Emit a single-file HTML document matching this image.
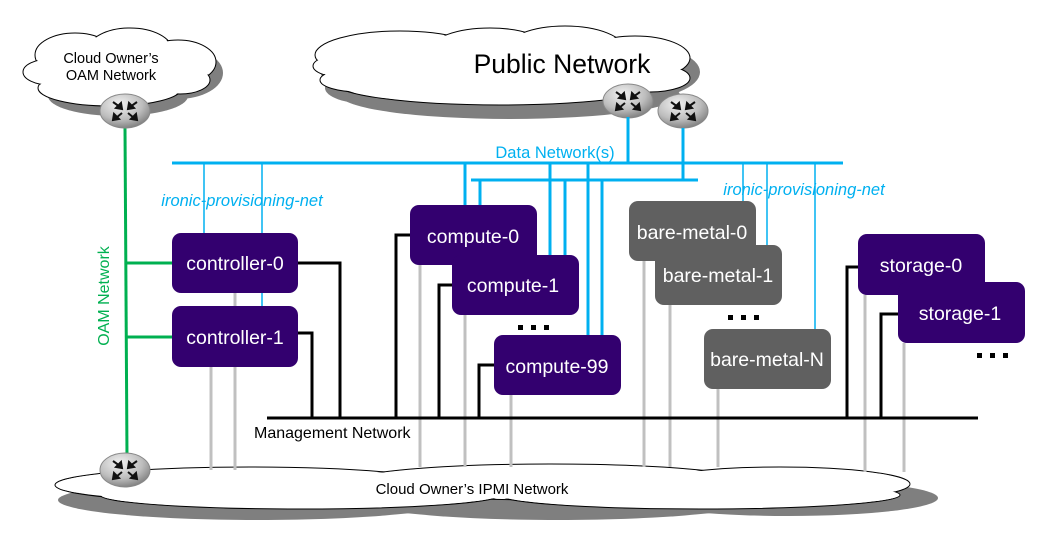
<!DOCTYPE html>
<html><head><meta charset="utf-8"><style>
html,body{margin:0;padding:0;background:#fff}
svg{display:block}
text{font-family:"Liberation Sans",Arial,sans-serif}
</style></head><body>
<svg width="1051" height="537" viewBox="0 0 1051 537" xmlns="http://www.w3.org/2000/svg">
<defs>
<radialGradient id="rg" cx="40%" cy="30%" r="75%">
<stop offset="0" stop-color="#f2f2f2"/><stop offset="0.6" stop-color="#bdbdbd"/><stop offset="1" stop-color="#7a7a7a"/>
</radialGradient>
<g id="router">
<ellipse cx="0" cy="0" rx="25" ry="17" fill="url(#rg)" stroke="#888" stroke-width="1"/>
<g stroke="#111" stroke-width="2" fill="#111">
<line x1="-12" y1="-9" x2="-5" y2="-4"/><polygon points="-3,-2 -9,-3 -4,-8"/>
<line x1="12" y1="-9" x2="5" y2="-4"/><polygon points="3,-2 9,-3 4,-8"/>
<line x1="-3" y1="2" x2="-9" y2="7"/><polygon points="-12,9 -6,8 -11,3"/>
<line x1="3" y1="2" x2="9" y2="7"/><polygon points="12,9 6,8 11,3"/>
</g>
</g>
</defs>

<!-- OAM cloud -->
<g transform="translate(8,8)" fill="#7f7f7f">
<ellipse cx="70" cy="62" rx="45" ry="24"/><ellipse cx="120" cy="52" rx="45" ry="26"/><ellipse cx="170" cy="65" rx="45" ry="26"/><ellipse cx="110" cy="88" rx="70" ry="20"/>
</g>
<g fill="#fff" stroke="#000" stroke-width="1">
<ellipse cx="75" cy="55" rx="40" ry="22"/><ellipse cx="130" cy="50" rx="42" ry="22"/><ellipse cx="178" cy="62" rx="38" ry="22"/><ellipse cx="110" cy="88" rx="72" ry="18"/><ellipse cx="50" cy="72" rx="27" ry="13"/><ellipse cx="180" cy="80" rx="30" ry="14"/>
</g>
<g fill="#fff">
<ellipse cx="75" cy="55" rx="39" ry="21"/><ellipse cx="130" cy="50" rx="41" ry="21"/><ellipse cx="178" cy="62" rx="37" ry="21"/><ellipse cx="110" cy="88" rx="71" ry="17"/><ellipse cx="50" cy="72" rx="26" ry="12"/><ellipse cx="180" cy="80" rx="29" ry="13"/>
<ellipse cx="115" cy="68" rx="75" ry="20"/>
</g>
<text x="111" y="63" font-size="14.5" text-anchor="middle">Cloud Owner’s</text>
<text x="111" y="80" font-size="14.5" text-anchor="middle">OAM Network</text>

<!-- Public cloud -->
<g transform="translate(10,10)" fill="#7f7f7f">
<ellipse cx="400" cy="60" rx="90" ry="30"/><ellipse cx="520" cy="55" rx="90" ry="30"/><ellipse cx="620" cy="62" rx="70" ry="28"/><ellipse cx="500" cy="85" rx="170" ry="24"/><ellipse cx="360" cy="78" rx="45" ry="16"/>
</g>
<g fill="#fff" stroke="#000" stroke-width="1">
<ellipse cx="400" cy="55" rx="85" ry="24"/><ellipse cx="490" cy="50" rx="60" ry="22"/><ellipse cx="565" cy="50" rx="60" ry="24"/><ellipse cx="635" cy="58" rx="55" ry="22"/><ellipse cx="500" cy="83" rx="165" ry="22"/><ellipse cx="355" cy="66" rx="42" ry="13"/><ellipse cx="360" cy="80" rx="40" ry="12"/><ellipse cx="650" cy="78" rx="40" ry="14"/>
</g>
<g fill="#fff">
<ellipse cx="400" cy="55" rx="84" ry="23"/><ellipse cx="490" cy="50" rx="59" ry="21"/><ellipse cx="565" cy="50" rx="59" ry="23"/><ellipse cx="635" cy="58" rx="54" ry="21"/><ellipse cx="500" cy="83" rx="164" ry="21"/><ellipse cx="355" cy="66" rx="41" ry="12"/><ellipse cx="360" cy="80" rx="39" ry="11"/><ellipse cx="650" cy="78" rx="39" ry="13"/>
<ellipse cx="500" cy="68" rx="150" ry="22"/>
</g>
<text x="562" y="73" font-size="26.5" text-anchor="middle">Public Network</text>

<!-- IPMI cloud -->
<g transform="translate(8,10)" fill="#7f7f7f">
<ellipse cx="250" cy="490" rx="200" ry="20"/><ellipse cx="550" cy="490" rx="200" ry="20"/><ellipse cx="780" cy="488" rx="150" ry="18"/>
</g>
<g fill="#fff" stroke="#000" stroke-width="1">
<ellipse cx="250" cy="485" rx="195" ry="18"/><ellipse cx="550" cy="482" rx="200" ry="18"/><ellipse cx="780" cy="484" rx="130" ry="17"/><ellipse cx="300" cy="495" rx="200" ry="14"/><ellipse cx="700" cy="495" rx="200" ry="14"/><ellipse cx="150" cy="488" rx="80" ry="10"/>
</g>
<g fill="#fff">
<ellipse cx="250" cy="485" rx="194" ry="17"/><ellipse cx="550" cy="482" rx="199" ry="17"/><ellipse cx="780" cy="484" rx="129" ry="16"/><ellipse cx="300" cy="495" rx="199" ry="13"/><ellipse cx="700" cy="495" rx="199" ry="13"/><ellipse cx="150" cy="488" rx="79" ry="9"/>
</g>

<!-- grey IPMI verticals -->
<g stroke="#c0c0c0" stroke-width="3">
<line x1="211" y1="367" x2="211" y2="470"/><line x1="235" y1="293" x2="235" y2="470"/>
<line x1="420" y1="265" x2="420" y2="467"/><line x1="465" y1="315" x2="465" y2="467"/><line x1="511" y1="395" x2="511" y2="467"/>
<line x1="644" y1="261" x2="644" y2="467"/><line x1="670" y1="305" x2="670" y2="467"/><line x1="718" y1="389" x2="718" y2="467"/>
<line x1="865" y1="295" x2="865" y2="472"/><line x1="904" y1="343" x2="904" y2="472"/>
</g>
<text x="472" y="494" font-size="15" text-anchor="middle">Cloud Owner’s IPMI Network</text>

<!-- OAM green -->
<g stroke="#00b050" stroke-width="3">
<line x1="125" y1="128" x2="127" y2="458"/>
<line x1="126" y1="263" x2="172" y2="263"/><line x1="126" y1="337" x2="172" y2="337"/>
</g>
<text transform="translate(109,296) rotate(-90)" font-size="16" fill="#00b050" text-anchor="middle">OAM Network</text>

<!-- routers -->
<use href="#router" x="125" y="111"/>
<use href="#router" x="628" y="101"/>
<use href="#router" x="683" y="111"/>
<use href="#router" x="125" y="470"/>

<!-- data network -->
<g stroke="#00b0f0">
<line x1="172" y1="163" x2="843" y2="163" stroke-width="3"/>
<line x1="471" y1="180" x2="698" y2="180" stroke-width="3"/>
<line x1="628" y1="117" x2="628" y2="163" stroke-width="3"/>
<line x1="683" y1="128" x2="683" y2="180" stroke-width="3"/>
<line x1="465" y1="163" x2="465" y2="205" stroke-width="3"/>
<line x1="480" y1="180" x2="480" y2="205" stroke-width="3"/>
<line x1="550" y1="163" x2="550" y2="255" stroke-width="3"/>
<line x1="565" y1="180" x2="565" y2="255" stroke-width="3"/>
<line x1="588" y1="163" x2="588" y2="335" stroke-width="3"/>
<line x1="602" y1="180" x2="602" y2="335" stroke-width="3"/>
<line x1="204" y1="163" x2="204" y2="233" stroke-width="1.5"/>
<line x1="262" y1="163" x2="262" y2="306" stroke-width="1.5"/>
<line x1="743" y1="163" x2="743" y2="201" stroke-width="1.5"/>
<line x1="767" y1="163" x2="767" y2="245" stroke-width="1.5"/>
<line x1="815" y1="163" x2="815" y2="329" stroke-width="1.5"/>
</g>
<text x="555" y="158" font-size="16.5" fill="#00b0f0" text-anchor="middle">Data Network(s)</text>
<text x="242" y="206" font-size="16.5" fill="#00b0f0" font-style="italic" text-anchor="middle">ironic-provisioning-net</text>
<text x="804" y="195" font-size="16.5" fill="#00b0f0" font-style="italic" text-anchor="middle">ironic-provisioning-net</text>

<!-- management -->
<g stroke="#000" stroke-width="3" fill="none">
<line x1="267" y1="418" x2="978" y2="418"/>
<polyline points="298,263 340,263 340,418"/>
<polyline points="298,333 312,333 312,418"/>
<polyline points="410,235 396,235 396,418"/>
<polyline points="452,285 439,285 439,418"/>
<polyline points="494,365 479,365 479,418"/>
<polyline points="858,267 847,267 847,418"/>
<polyline points="898,314 881,314 881,418"/>
</g>
<text x="254" y="438" font-size="16" >Management Network</text>

<!-- nodes -->
<g font-size="19.5" fill="#fff" text-anchor="middle">
<rect x="172" y="233" width="126" height="60" rx="9" fill="#33006f"/>
<text x="235" y="270">controller-0</text>
<rect x="172" y="306" width="126" height="61" rx="9" fill="#33006f"/>
<text x="235" y="344">controller-1</text>
<rect x="410" y="205" width="127" height="60" rx="9" fill="#33006f"/>
<text x="473" y="243">compute-0</text>
<rect x="452" y="255" width="127" height="60" rx="9" fill="#33006f"/>
<text x="513" y="292">compute-1</text>
<rect x="494" y="335" width="127" height="60" rx="9" fill="#33006f"/>
<text x="557" y="373">compute-99</text>
<rect x="629" y="201" width="127" height="60" rx="9" fill="#606060"/>
<text x="692" y="239">bare-metal-0</text>
<rect x="655" y="245" width="127" height="60" rx="9" fill="#606060"/>
<text x="718" y="282">bare-metal-1</text>
<rect x="704" y="329" width="127" height="60" rx="9" fill="#606060"/>
<text x="767" y="366">bare-metal-N</text>
<rect x="858" y="234" width="127" height="61" rx="9" fill="#33006f"/>
<text x="921" y="272">storage-0</text>
<rect x="898" y="282" width="127" height="61" rx="9" fill="#33006f"/>
<text x="960" y="320">storage-1</text>
</g>

<!-- dots -->
<g fill="#000">
<rect x="518" y="325" width="5" height="5"/><rect x="531" y="325" width="5" height="5"/><rect x="544" y="325" width="5" height="5"/>
<rect x="728" y="315" width="5" height="5"/><rect x="741" y="315" width="5" height="5"/><rect x="754" y="315" width="5" height="5"/>
<rect x="977" y="353" width="5" height="5"/><rect x="990" y="353" width="5" height="5"/><rect x="1003" y="353" width="5" height="5"/>
</g>
</svg>
</body></html>
